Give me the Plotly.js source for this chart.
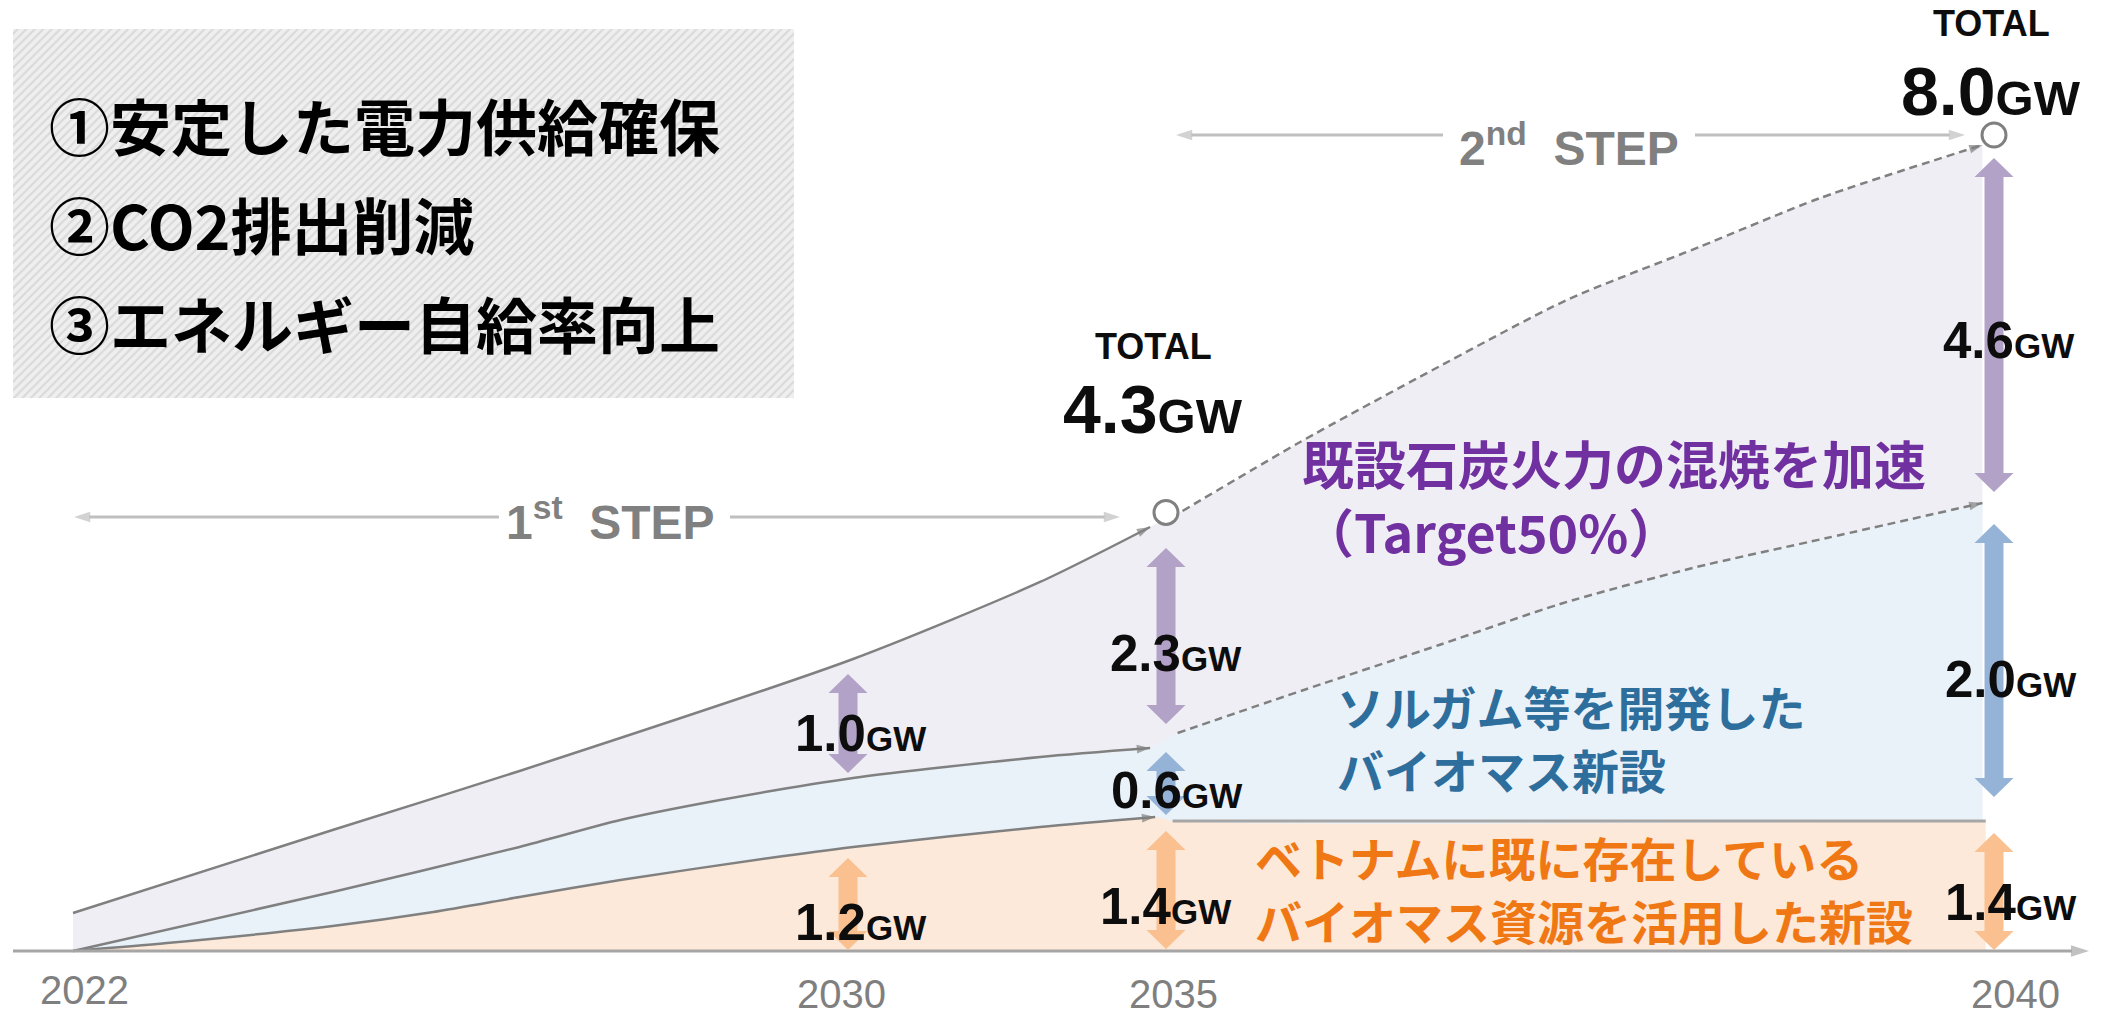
<!DOCTYPE html>
<html>
<head>
<meta charset="utf-8">
<script src="https://cdn.plot.ly/plotly-3.0.1.min.js"></script>
<style>html,body{margin:0;padding:0;background:#fff}#chart{width:2102px;height:1017px}</style>
</head>
<body>
<div id="chart"></div>
<script>
// ================= DATA =================
// milestone years on the timeline
const years = [2022, 2030, 2035, 2040];
const yearLabels = ['2022', '2030', '2035', '2040'];

// totals (GW)
const totalYears = [2035, 2040];
const totalGW = [4.3, 8.0];

// labelled segments (GW)
const segYears = [2030, 2030, 2035, 2035, 2035, 2040, 2040, 2040];
const segGW    = [1.0, 1.2, 2.3, 0.6, 1.4, 4.6, 2.0, 1.4];
const segKind  = ['coal', 'viet', 'coal', 'sorg', 'viet', 'coal', 'sorg', 'viet'];
// extents of the double arrows as drawn (schematic chart units)
const segLo = [1.745, 0.010, 2.225, 1.333, 0.020, 4.500, 1.510, 0.010];
const segHi = [2.716, 0.912, 3.951, 1.951, 1.176, 7.775, 4.186, 1.157];

// boundary curves (schematic heights)
// 1st step (2022-2035), solid lines
const p1TotalYr  = [2022, 2024.68, 2026.61, 2030.08, 2033.02, 2034.75];
const p1TotalVal = [0.373, 1.186, 1.765, 2.863, 3.618, 4.157];
const p1MidYr    = [2022, 2024.68, 2026.61, 2027.65, 2028.68, 2030.08, 2033.02, 2034.75];
const p1MidVal   = [0, 0.578, 1.020, 1.284, 1.480, 1.696, 1.902, 1.990];
const p1LowYr    = [2022, 2022.97, 2024.68, 2025.72, 2026.61, 2027.65, 2029.19, 2030.08, 2033.02, 2034.83];
const p1LowVal   = [0, 0.078, 0.245, 0.382, 0.529, 0.696, 0.912, 1.020, 1.216, 1.314];
// 2nd step (2035-2040), dashed lines
const p2TotalYr  = [2035.10, 2035.81, 2036.61, 2037.42, 2038.22, 2038.95, 2039.93];
const p2TotalVal = [4.314, 4.990, 5.696, 6.382, 6.902, 7.382, 7.902];
const p2MidYr    = [2035.07, 2035.85, 2036.65, 2037.38, 2038.18, 2038.99, 2039.93];
const p2MidVal   = [2.137, 2.569, 3.000, 3.402, 3.755, 4.049, 4.392];
const p2LowYr    = [2035.04, 2039.95];
const p2LowVal   = [1.275, 1.275];

// texts
const goals = ['①安定した電力供給確保', '②CO2排出削減', '③エネルギー自給率向上'];
const coalText = ['既設石炭火力の混焼を加速', '（Target50%）'];
const sorgText = ['ソルガム等を開発した', 'バイオマス新設'];
const vietText = ['ベトナムに既に存在している', 'バイオマス資源を活用した新設'];

// ================= LAYOUT HELPERS =================
// schematic (non-linear) timeline: where each milestone sits on the slide
const anchorPx = [73, 848, 1166, 1994];
function xOf(yr) {
  for (let i = 0; i < years.length - 1; i++) {
    if (yr <= years[i + 1] || i === years.length - 2) {
      const t = (yr - years[i]) / (years[i + 1] - years[i]);
      return anchorPx[i] + t * (anchorPx[i + 1] - anchorPx[i]);
    }
  }
}
const BASE = 951, PXU = 102;             // baseline row, pixels per chart unit
const Y = py => (BASE - py) / PXU;       // picture row -> chart units (placement only)

const LAT = 'Liberation Sans, Arial, sans-serif';
const JP = 'Noto Sans CJK JP, sans-serif';
const GRAY = '#808080';
const arrowColor = {coal: '#b3a2c7', sorg: '#95b3d7', viet: '#fac090'};
const fillColor = {coal: '#f0eef5', sorg: '#eaf2f9', viet: '#fde9d9'};

// ================= TRACES =================
const traces = [];

// hatched goal panel
traces.push({
  type: 'bar', x: [400.5], y: [(398 - 29) / PXU], base: [Y(398)], width: [787],
  marker: {color: '#ececec', line: {width: 0},
    pattern: {shape: '/', fgcolor: '#d9d9d9', bgcolor: '#efefef', size: 6, solidity: 0.35}},
  hoverinfo: 'skip', showlegend: false
});

function fillTrace(xs, ys, color) {
  return {type: 'scatter', mode: 'lines', x: xs.map(xOf), y: ys, fill: 'tozeroy', fillcolor: color,
    line: {width: 0, shape: 'spline', smoothing: 0.7}, hoverinfo: 'skip', showlegend: false};
}
traces.push(fillTrace(p1TotalYr.concat(p2TotalYr), p1TotalVal.concat(p2TotalVal), fillColor.coal));
traces.push(fillTrace(p1MidYr.concat(p2MidYr), p1MidVal.concat(p2MidVal), fillColor.sorg));
traces.push(fillTrace(p1LowYr.concat(p2LowYr), p1LowVal.concat(p2LowVal), fillColor.viet));

function lineTrace(xs, ys, opt) {
  return {type: 'scatter', mode: opt.arrow ? 'lines+markers' : 'lines',
    x: xs, y: ys,
    line: {color: opt.color || GRAY, width: opt.width || 2.5, dash: opt.dash || 'solid',
      shape: opt.shape || 'spline', smoothing: 0.7},
    marker: {symbol: 'arrow', angleref: 'previous', color: opt.color || GRAY,
      size: ys.map((_, i) => (i === ys.length - 1 ? (opt.head || 14) : 0)), line: {width: 0}},
    hoverinfo: 'skip', showlegend: false};
}
traces.push(lineTrace(p1TotalYr.map(xOf), p1TotalVal, {arrow: true}));
traces.push(lineTrace(p1MidYr.map(xOf), p1MidVal, {arrow: true}));
traces.push(lineTrace(p1LowYr.map(xOf), p1LowVal, {arrow: true}));
traces.push(lineTrace(p2TotalYr.map(xOf), p2TotalVal, {arrow: true, dash: '8px,5px'}));
traces.push(lineTrace(p2MidYr.map(xOf), p2MidVal, {arrow: true, dash: '8px,5px'}));
traces.push(lineTrace(p2LowYr.map(xOf), p2LowVal, {arrow: false, color: '#a6a6a6', width: 3}));

// step arrows (tail -> head) and baseline arrow
function stepArrow(xTail, xHead, py) {
  return lineTrace([xTail, xHead], [Y(py), Y(py)], {arrow: true, color: '#bfbfbf', width: 3, shape: 'linear', head: 17});
}
traces.push(stepArrow(499, 74, 517), stepArrow(730, 1120, 517));
traces.push(stepArrow(1443, 1176, 135), stepArrow(1695, 1965, 135));
traces.push(lineTrace([13, 2089], [0, 0], {arrow: true, color: '#a6a6a6', width: 3, shape: 'linear', head: 19}));

// total markers
traces.push({type: 'scatter', mode: 'markers', x: totalYears.map(xOf), y: totalGW,
  marker: {symbol: 'circle', size: 24, color: '#ffffff', line: {color: GRAY, width: 3}},
  hoverinfo: 'skip', showlegend: false});

// ================= SHAPES =================
const shapes = [];
function dblArrow(xc, lo, hi, color) {
  const sw = 9.5, hw = 19.5, hl = 19 / PXU;
  const p = [[xc, hi], [xc + hw, hi - hl], [xc + sw, hi - hl], [xc + sw, lo + hl], [xc + hw, lo + hl],
    [xc, lo], [xc - hw, lo + hl], [xc - sw, lo + hl], [xc - sw, hi - hl], [xc - hw, hi - hl]];
  return {type: 'path', xref: 'x', yref: 'y', layer: 'above',
    path: 'M' + p.map(q => q[0].toFixed(2) + ',' + q[1].toFixed(4)).join('L') + 'Z',
    fillcolor: color, line: {width: 0}};
}
segYears.forEach((yr, i) => shapes.push(dblArrow(xOf(yr), segLo[i], segHi[i], arrowColor[segKind[i]])));

// ================= ANNOTATIONS =================
const ann = [];
function txt(x, py, text, font, xanchor, extra) {
  return Object.assign({xref: 'x', yref: 'y', x: x, y: Y(py), text: text, showarrow: false,
    xanchor: xanchor || 'center', yanchor: 'middle', align: xanchor || 'center', font: font}, extra || {});
}
// goal panel
const goalPy = [124, 223, 322];
goals.forEach((g, i) => ann.push(txt(47, goalPy[i], g, {family: JP, size: 61, color: '#000', weight: 'bold'}, 'left')));

// year labels
const yearDx = [11, -7, 7, 21], yearPy = [990, 994, 994, 994];
years.forEach((yr, i) => ann.push(txt(xOf(yr) + yearDx[i], yearPy[i], yearLabels[i],
  {family: LAT, size: 40, color: '#7f7f7f'})));

// step labels
const stepFont = {family: LAT, size: 48, color: '#808080', weight: 'bold'};
ann.push(txt(610, 519, '1<sup>st</sup>\u00a0\u00a0STEP', stepFont));
ann.push(txt(1569, 145, '2<sup>nd</sup>\u00a0\u00a0STEP', stepFont));

// totals
const totalDx = [-13, -3], totalTitlePy = [346, 23], totalValPy = [409, 91];
totalYears.forEach((yr, i) => {
  ann.push(txt(xOf(yr) + totalDx[i], totalTitlePy[i], 'TOTAL', {family: LAT, size: 36, color: '#0d0d0d', weight: 'bold'}));
  ann.push(txt(xOf(yr) + totalDx[i], totalValPy[i],
    totalGW[i].toFixed(1) + '<span style="font-size:49px">GW</span>', {family: LAT, size: 68, color: '#0d0d0d', weight: 'bold'}));
});

// segment value labels
const labelDx = [12, 12, 9, 10, -1, 14, 16, 16];
const labelPy = [733, 922, 653, 790, 906, 340, 679, 902];
segYears.forEach((yr, i) => ann.push(txt(xOf(yr) + labelDx[i], labelPy[i],
  segGW[i].toFixed(1) + '<span style="font-size:35px">GW</span>',
  {family: LAT, size: 51, color: '#0d0d0d', weight: 'bold'})));

// category descriptions
ann.push(txt(1300, 496, coalText.join('<br>'), {family: JP, size: 52, color: '#7030a0', weight: 'bold'}, 'left'));
const sorgPy = [705, 768], vietPy = [856, 919];
sorgText.forEach((t, i) => ann.push(txt(1335, sorgPy[i], t, {family: JP, size: 47, color: '#2e6e9c', weight: 'bold'}, 'left')));
vietText.forEach((t, i) => ann.push(txt(1253, vietPy[i], t, {family: JP, size: 47, color: '#f07814', weight: 'bold'}, 'left')));

const layout = {
  width: 2102, height: 1017,
  margin: {l: 13, r: 12, t: 0, b: 0, pad: 0},
  paper_bgcolor: '#ffffff', plot_bgcolor: 'rgba(0,0,0,0)',
  xaxis: {range: [13, 2090], visible: false, fixedrange: true},
  yaxis: {range: [Y(1017), Y(0)], visible: false, fixedrange: true},
  showlegend: false, bargap: 0,
  shapes: shapes, annotations: ann
};

Plotly.newPlot('chart', traces, layout, {staticPlot: true, displayModeBar: false});
</script>
</body>
</html>
